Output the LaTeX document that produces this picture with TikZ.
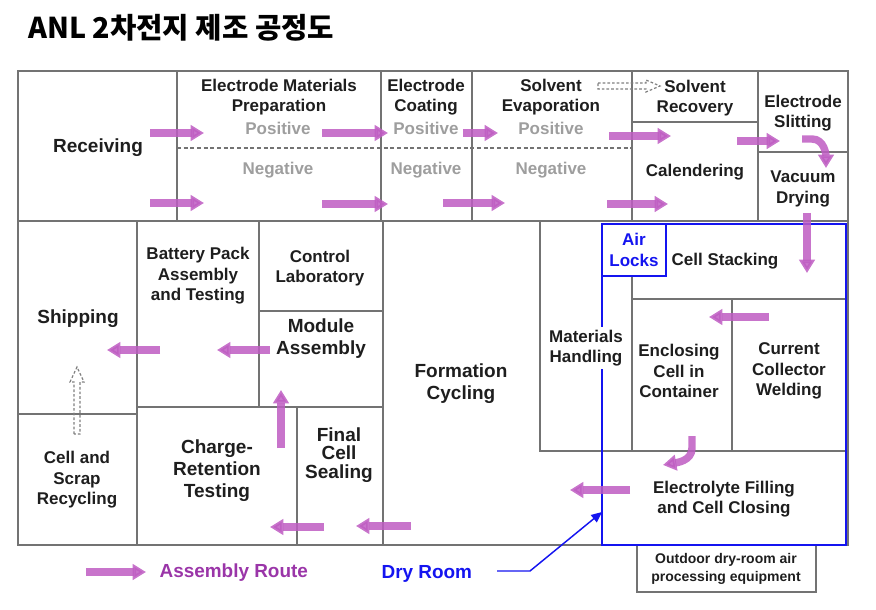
\documentclass[tikz,border=0pt]{standalone}
\usepackage{fontspec}
\setmainfont{Liberation Sans}
\newfontfamily\krfont{Noto Sans CJK KR}
\usepackage{xcolor}
\usetikzlibrary{calc,arrows.meta,positioning}
\definecolor{wallgray}{HTML}{737373}
\definecolor{labelblack}{HTML}{1E1E1E}
\definecolor{sidegray}{HTML}{9E9E9E}
\definecolor{routepink}{HTML}{BE5CC2}
\definecolor{routetext}{HTML}{9A35A8}
\definecolor{dryblue}{HTML}{1414F0}
\definecolor{dashgray}{HTML}{808080}

\tikzset{
  wall/.style={draw=wallgray, line width=1.3pt},
  drywall/.style={draw=dryblue, line width=2.2pt},
  room/.style={font=\bfseries\fontsize{12.75}{15.3}\selectfont, align=center, text=labelblack, inner sep=1pt},
  bigroom/.style={room, font=\bfseries\fontsize{14.25}{16.5}\selectfont},
  side/.style={room, text=sidegray},
  route/.style={line width=5.6pt, draw=routepink, opacity=0.85,
    -{Triangle[length=10pt,width=11.5pt]}},
  hollow/.style={draw=dashgray, line width=0.9pt, dash pattern=on 2pt off 1.5pt},
  pointer/.style={draw=dryblue, line width=1.1pt, -{Triangle[length=8pt,width=7pt]}}
}

\begin{document}
\begin{tikzpicture}[x=0.75pt, y=-0.75pt]
  \useasboundingbox (0,0) rectangle (876,610);

  \node[anchor=west, inner sep=0pt, font=\krfont\bfseries\fontsize{21.5}{24}\selectfont] (title) at (28,28) {ANL 2차전지 제조 공정도};

  % walls
  \draw[wall] (18,71) rectangle (848,545);
  \draw[wall] (18,221) -- (848,221);
  \foreach \x in {177,381,472,632,758}
    \draw[wall] (\x,71) -- (\x,221);
  \draw[wall] (632,122) -- (758,122);
  \draw[wall] (758,152) -- (848,152);
  \draw[wall, dashed, dash pattern=on 3pt off 2pt] (177,148) -- (632,148);
  \draw[wall] (137,221) -- (137,545);
  \draw[wall] (18,414) -- (137,414);
  \draw[wall] (259,221) -- (259,407);
  \draw[wall] (259,311) -- (383,311);
  \draw[wall] (137,407) -- (383,407);
  \draw[wall] (383,221) -- (383,545);
  \draw[wall] (297,407) -- (297,545);
  \draw[wall] (540,221) -- (540,451) -- (848,451);
  \draw[wall] (632,276) -- (632,451);
  \draw[wall] (632,299) -- (848,299);
  \draw[wall] (732,299) -- (732,451);
  \draw[wall, line width=1.6pt] (637,545) rectangle (816,592);

  % dry room
  \draw[drywall] (602,224) rectangle (846,545);
  \draw[drywall] (602,224) rectangle (666,276);

  % labels
  \node[bigroom] (receiving) at (98,148) {Receiving};
  \node[room] (matprep) at (279,97) {Electrode Materials\\Preparation};
  \node[side] (matpos) at (278,128) {Positive};
  \node[side] (matneg) at (278,170) {Negative};
  \node[room] (coating) at (426,97) {Electrode\\Coating};
  \node[side] (coatpos) at (426,128) {Positive};
  \node[side] (coatneg) at (426,170) {Negative};
  \node[room] (evap) at (551,97) {Solvent\\Evaporation};
  \node[side] (evappos) at (551,128) {Positive};
  \node[side] (evapneg) at (551,170) {Negative};
  \node[room] (recovery) at (695,98) {Solvent\\Recovery};
  \node[room] (calender) at (695,172) {Calendering};
  \node[room] (slitting) at (803,113) {Electrode\\Slitting};
  \node[room] (vacuum) at (803,189) {Vacuum\\Drying};
  \node[room] (packtest) at (198,276) {Battery Pack\\Assembly\\and Testing};
  \node[room] (controllab) at (320,268) {Control\\Laboratory};
  \node[bigroom] (module) at (321,339) {Module\\Assembly};
  \node[bigroom] (shipping) at (78,319) {Shipping};
  \node[room] (recycling) at (77,480) {Cell and\\Scrap\\Recycling};
  \node[bigroom] (retention) at (217,471) {Charge-\\Retention\\Testing};
  \node[bigroom, font=\bfseries\fontsize{14.25}{14}\selectfont] (sealing) at (339,455) {Final\\Cell\\Sealing};
  \node[bigroom] (formation) at (461,384) {Formation\\Cycling};
  \node[room, text=dryblue] (airlocks) at (634,250) {Air\\Locks};
  \node[room] (stacking) at (725,261) {Cell Stacking};
  \node[room, fill=white, inner sep=2pt] (handling) at (586,348) {Materials\\Handling};
  \node[room] (enclosing) at (679,371) {Enclosing\\Cell in\\Container};
  \node[room] (welding) at (789,371) {Current\\Collector\\Welding};
  \node[room] (filling) at (724,499) {Electrolyte Filling\\and Cell Closing};
  \node[room, font=\bfseries\fontsize{10.5}{13}\selectfont] (outdoor) at (726,569) {Outdoor dry-room air\\processing equipment};

  % assembly route
  \draw[route] (150,133) -- (204,133);
  \draw[route] (150,203) -- (204,203);
  \draw[route] (322,133) -- (388,133);
  \draw[route] (322,204) -- (388,204);
  \draw[route] (463,133) -- (498,133);
  \draw[route] (443,203) -- (505,203);
  \draw[route] (609,136) -- (671,136);
  \draw[route] (607,204) -- (668,204);
  \draw[route] (737,141) -- (780,141);
  \draw[route] (802,139) -- (812,139) to[out=0, in=90] (826,168);
  \draw[route] (807,213) -- (807,273);
  \draw[route] (769,317) -- (709,317);
  \draw[route] (692,436) -- (692,448) to[out=-90, in=10] (663,465);
  \draw[route] (630,490) -- (570,490);
  \draw[route] (411,526) -- (356,526);
  \draw[route] (324,527) -- (270,527);
  \draw[route] (281,448) -- (281,390);
  \draw[route] (270,350) -- (217,350);
  \draw[route] (160,350) -- (107,350);

  % solvent and scrap returns
  \draw[hollow] (598,83) -- (646,83) -- (646,80) -- (660,86) -- (646,92) -- (646,89) -- (598,89) -- cycle;
  \draw[hollow] (74,434) -- (74,382) -- (70,382) -- (77,367) -- (84,382) -- (80,382) -- (80,434) -- cycle;

  % legend
  \draw[route] (86,572) -- (146,572);
  \node[room, anchor=west, text=routetext, font=\bfseries\fontsize{14.2}{16}\selectfont] (routelabel) at (158,573) {Assembly Route};
  \node[room, anchor=west, text=dryblue, font=\bfseries\fontsize{14.2}{16}\selectfont] (dryroom) at (380,574) {Dry Room};
  \coordinate (ptrstart) at (497,571);
  \draw[pointer] (ptrstart) -- (530,571) -- (602,512);
\end{tikzpicture}
\end{document}
